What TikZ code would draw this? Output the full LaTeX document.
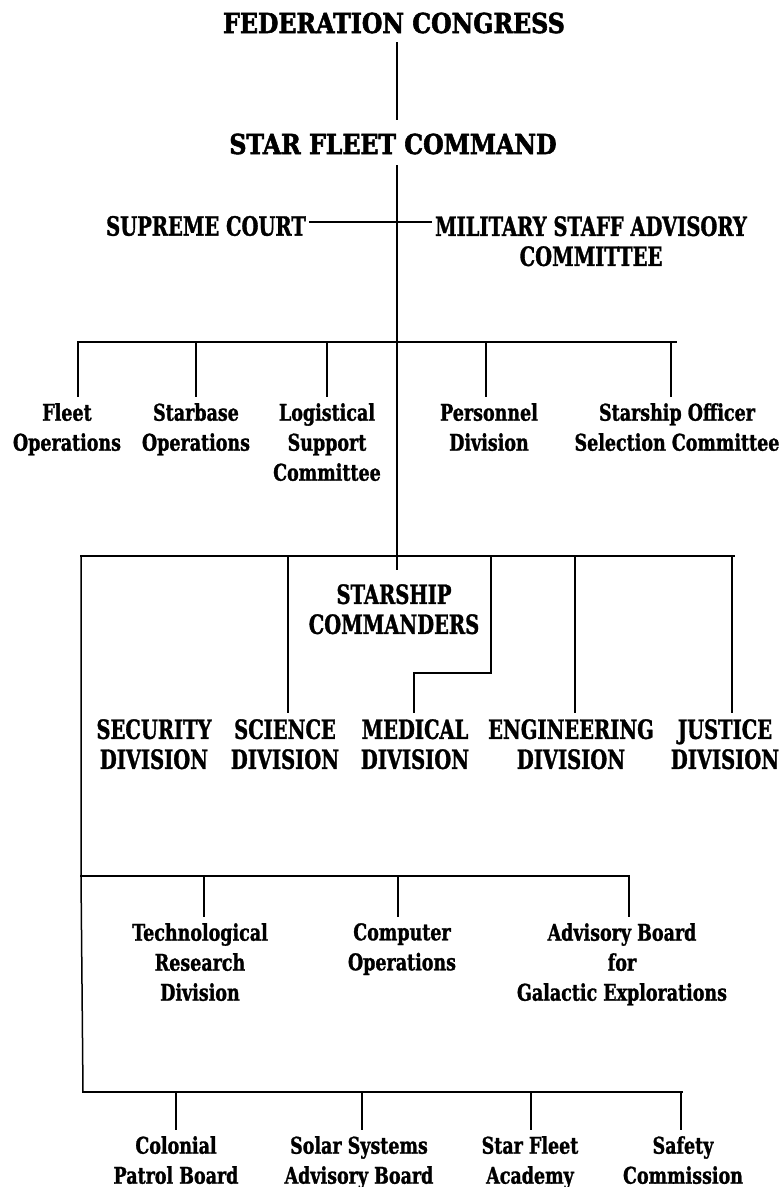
\documentclass[tikz,border=0pt]{standalone}
\usepackage{fontspec}
\newfontfamily\chartfont{DejaVu Serif}[FakeStretch=0.76, FakeBold=1.2]
\newfontfamily\capsfont{DejaVu Serif}[FakeStretch=0.735, FakeBold=1.2]
\newfontfamily\titlefont{DejaVu Serif}[FakeStretch=0.86, FakeBold=2]
\tikzset{
  ttl/.style={font=\titlefont\bfseries\fontsize{27.5}{32}\selectfont, inner sep=2pt},
  capsl/.style={font=\capsfont\bfseries\fontsize{26.5}{30}\selectfont, align=center, inner sep=2pt},
  lowl/.style={font=\chartfont\bfseries\fontsize{23}{30}\selectfont, align=center, inner sep=2pt},
  ln/.style={line width=1.5pt, line cap=rect},
  drop/.style={line width=1.5pt, shorten >=4pt},
}
\begin{document}
\begin{tikzpicture}[x=1pt,y=-1pt]
\useasboundingbox[fill=white] (0,0) rectangle (784,1187);

% top
\node[ttl] (fc) at (394,23) {FEDERATION CONGRESS};
\node[ttl] (sfc) at (393,144) {STAR FLEET COMMAND};
\node[capsl] (sc) at (206,226) {SUPREME COURT};
\node[capsl, anchor=north] (msac) at (591,214) {MILITARY STAFF ADVISORY\\COMMITTEE};

% trunk coordinates
\coordinate (t0) at (397,43);
\coordinate (t1) at (397,119);
\coordinate (t2) at (397,166);
\coordinate (tb) at (397,569);
\coordinate (scl) at (310,222);
\coordinate (scr) at (431,222);

\draw[ln] (t0) -- (t1);
\draw[ln] (t2) -- (tb);
\draw[ln] (scl) -- (scr);

% first tier
\coordinate (b1l) at (78,342);
\coordinate (b1r) at (676,342);
\draw[ln] (b1l) -- (b1r);
\coordinate (d11) at (78,342);
\coordinate (d12) at (196,342);
\coordinate (d13) at (327,342);
\coordinate (d14) at (486,342);
\coordinate (d15) at (671,342);

\node[lowl, anchor=north] (fleet) at (67,401) {Fleet\\Operations};
\node[lowl, anchor=north] (starbase) at (196,401) {Starbase\\Operations};
\node[lowl, anchor=north] (logis) at (327,401) {Logistical\\Support\\Committee};
\node[lowl, anchor=north] (pers) at (489,401) {Personnel\\Division};
\node[lowl, anchor=north] (sosc) at (677,401) {Starship Officer\\Selection Committee};

\draw[drop] (d11) -- (d11 |- fleet.north);
\draw[drop] (d12) -- (d12 |- starbase.north);
\draw[drop] (d13) -- (d13 |- logis.north);
\draw[drop] (d14) -- (d14 |- pers.north);
\draw[drop] (d15) -- (d15 |- sosc.north);

% second tier
\coordinate (b2l) at (81,556);
\coordinate (b2r) at (734,556);
\draw[ln] (b2l) -- (b2r);
\coordinate (d22) at (288,556);
\coordinate (d23) at (491,556);
\coordinate (d24) at (575,556);
\coordinate (d25) at (732,556);
\coordinate (mk1) at (491,673);
\coordinate (mk2) at (414,673);

\node[capsl, anchor=north] (stc) at (394,582) {STARSHIP\\COMMANDERS};
\node[capsl, anchor=north] (secd) at (154,717) {SECURITY\\DIVISION};
\node[capsl, anchor=north] (scid) at (285,717) {SCIENCE\\DIVISION};
\node[capsl, anchor=north] (medd) at (415,717) {MEDICAL\\DIVISION};
\node[capsl, anchor=north] (engd) at (571,717) {ENGINEERING\\DIVISION};
\node[capsl, anchor=north] (jusd) at (725,717) {JUSTICE\\DIVISION};

\draw[drop] (d22) -- (d22 |- scid.north);
\draw[drop] (d23) -- (mk1) -- (mk2) -- (mk2 |- medd.north);
\draw[drop] (d24) -- (d24 |- engd.north);
\draw[drop] (d25) -- (d25 |- jusd.north);

% left spine
\coordinate (b3l) at (81,876);
\coordinate (b4l) at (83,1092);
\draw[ln] (b2l) -- (b3l) -- (b4l);

% third tier
\coordinate (b3r) at (629,876);
\draw[ln] (b3l) -- (b3r);
\coordinate (d31) at (204,876);
\coordinate (d32) at (398,876);
\coordinate (d33) at (629,876);

\node[lowl, anchor=north] (tech) at (200,921) {Technological\\Research\\Division};
\node[lowl, anchor=north] (comp) at (402,921) {Computer\\Operations};
\node[lowl, anchor=north] (abge) at (622,921) {Advisory Board\\for\\Galactic Explorations};

\draw[drop] (d31) -- (d31 |- tech.north);
\draw[drop] (d32) -- (d32 |- comp.north);
\draw[drop] (d33) -- (d33 |- abge.north);

% fourth tier
\coordinate (b4r) at (682,1092);
\draw[ln] (b4l) -- (b4r);
\coordinate (d41) at (176,1092);
\coordinate (d42) at (362,1092);
\coordinate (d43) at (531,1092);
\coordinate (d44) at (681,1092);

\node[lowl, anchor=north] (colp) at (176,1134) {Colonial\\Patrol Board};
\node[lowl, anchor=north] (solar) at (359,1134) {Solar Systems\\Advisory Board};
\node[lowl, anchor=north] (acad) at (530,1134) {Star Fleet\\Academy};
\node[lowl, anchor=north] (safe) at (683,1134) {Safety\\Commission};

\draw[drop] (d41) -- (d41 |- colp.north);
\draw[drop] (d42) -- (d42 |- solar.north);
\draw[drop] (d43) -- (d43 |- acad.north);
\draw[drop] (d44) -- (d44 |- safe.north);
\end{tikzpicture}
\end{document}
